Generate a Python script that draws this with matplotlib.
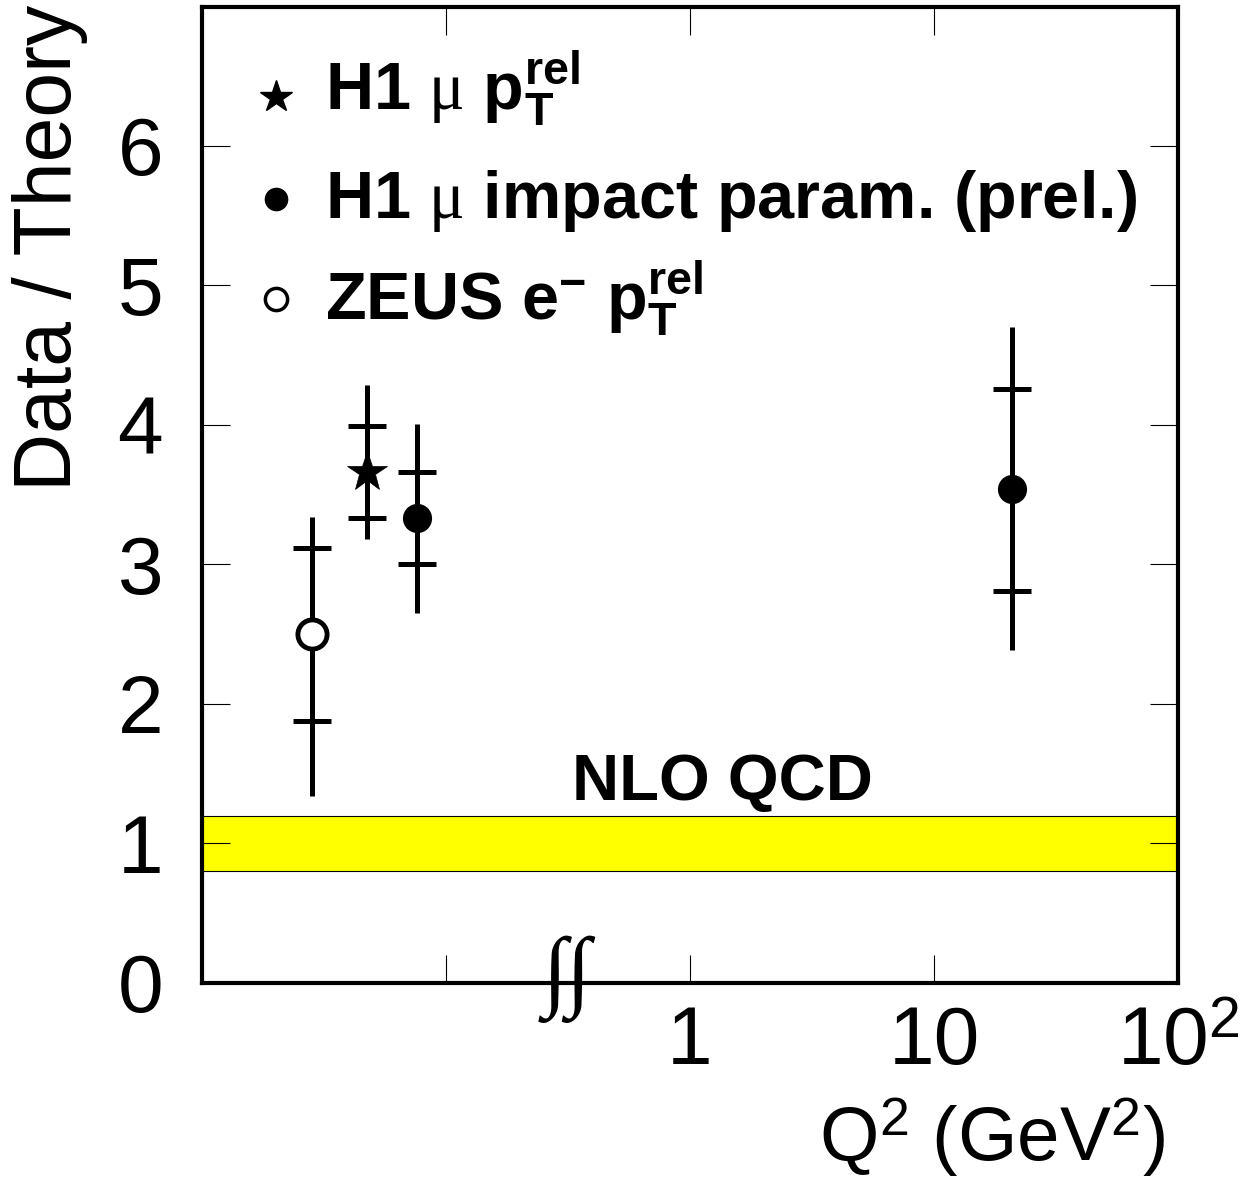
import matplotlib
matplotlib.use("Agg")
import matplotlib.pyplot as plt
import numpy as np

plt.rcParams['font.family'] = ['Liberation Sans', 'DejaVu Sans']
plt.rcParams['mathtext.fontset'] = 'custom'
plt.rcParams['mathtext.rm'] = 'Liberation Sans'
plt.rcParams['mathtext.bf'] = 'Liberation Sans:bold'
plt.rcParams['mathtext.it'] = 'Liberation Serif'

# ZEUS e- pTrel (photoproduction, drawn left of the axis break)
zeus_q2 = [0.0282]
zeus_val = [2.50]
zeus_stat_hi = [3.12]
zeus_stat_lo = [1.88]
zeus_tot_hi = [3.34]
zeus_tot_lo = [1.34]

# H1 mu pTrel
h1pt_q2 = [0.0475]
h1pt_val = [3.66]
h1pt_stat_hi = [3.99]
h1pt_stat_lo = [3.33]
h1pt_tot_hi = [4.29]
h1pt_tot_lo = [3.18]

# H1 mu impact parameter (prel.)
h1ip_q2 = [0.076, 20.9]
h1ip_val = [3.33, 3.54]
h1ip_stat_hi = [3.66, 4.26]
h1ip_stat_lo = [3.00, 2.81]
h1ip_tot_hi = [4.01, 4.70]
h1ip_tot_lo = [2.65, 2.39]

nlo_lo, nlo_hi = 0.8, 1.2

xticks = [0.1, 1, 10, 100]
xticklabels = ['', '1', '10', r'10$^{\mathrm{2}}$']
yticks = [0, 1, 2, 3, 4, 5, 6]

fig = plt.figure(figsize=(12.45, 11.82), dpi=100)
ax = fig.add_axes([0.1622, 0.1684, 0.7840, 0.8261])
ax.set_xscale('log')
ax.set_xlim(0.01, 100)
ax.set_ylim(0, 7)

ax.axhspan(nlo_lo, nlo_hi, facecolor='yellow', edgecolor='black', lw=0.8, zorder=1)
ax.text(0.533, 0.187, 'NLO QCD', transform=ax.transAxes, ha='center',
        va='baseline', fontsize=47, fontweight='bold')


def draw_points(q2, val, s_hi, s_lo, t_hi, t_lo, marker, ms, mfc, mew=0):
    q2 = np.array(q2)
    val = np.array(val)
    ax.errorbar(q2, val, yerr=[val - np.array(t_lo), np.array(t_hi) - val],
                fmt='none', ecolor='black', elinewidth=3.6, capsize=0, zorder=3)
    ax.plot(q2, s_hi, ls='none', marker='_', ms=28, mew=3.6, color='black', zorder=3)
    ax.plot(q2, s_lo, ls='none', marker='_', ms=28, mew=3.6, color='black', zorder=3)
    ax.plot(q2, val, ls='none', marker=marker, ms=ms, mfc=mfc, mec='black',
            mew=mew, zorder=4)


draw_points(zeus_q2, zeus_val, zeus_stat_hi, zeus_stat_lo, zeus_tot_hi,
            zeus_tot_lo, 'o', 21, 'white', mew=3.5)
draw_points(h1pt_q2, h1pt_val, h1pt_stat_hi, h1pt_stat_lo, h1pt_tot_hi,
            h1pt_tot_lo, '*', 30, 'black', mew=0.5)
draw_points(h1ip_q2, h1ip_val, h1ip_stat_hi, h1ip_stat_lo, h1ip_tot_hi,
            h1ip_tot_lo, 'o', 21, 'black')

# legend drawn by hand
leg_x_marker = 0.0758
leg_x_text = 0.126
ax.plot([leg_x_marker], [0.907], transform=ax.transAxes, marker='*', ms=24,
        color='black', ls='none', clip_on=False)
ax.plot([leg_x_marker], [0.803], transform=ax.transAxes, marker='o', ms=16,
        color='black', ls='none', clip_on=False)
ax.plot([leg_x_marker], [0.700], transform=ax.transAxes, marker='o', ms=16,
        mfc='white', mec='black', mew=2.5, ls='none', clip_on=False)
ax.text(leg_x_text, 0.894, r'H1 $\mu$ $\mathbf{p}_\mathbf{T}^\mathbf{rel}$',
        transform=ax.transAxes, fontsize=48, fontweight='bold', va='baseline')
ax.text(leg_x_text, 0.783, r'H1 $\mu$ impact param. (prel.)',
        transform=ax.transAxes, fontsize=48, fontweight='bold', va='baseline')
ax.text(leg_x_text, 0.679, r'ZEUS e$^\mathbf{-}$ $\mathbf{p}_\mathbf{T}^\mathbf{rel}$',
        transform=ax.transAxes, fontsize=48, fontweight='bold', va='baseline')

# axis break symbol
ax.text(0.374, 0.004, '\u222b\u222b', transform=ax.transAxes, ha='center',
        va='center', fontsize=64, family=['Liberation Serif', 'DejaVu Serif'],
        clip_on=False, zorder=5)

ax.set_xticks(xticks)
ax.set_xticklabels(xticklabels)
ax.set_yticks(yticks)
ax.minorticks_off()
ax.tick_params(direction='in', length=20, width=0.8, top=True, right=True,
               labelsize=59)
ax.tick_params(axis='x', pad=16)
ax.tick_params(axis='y', pad=28)
for sp in ax.spines.values():
    sp.set_linewidth(3)

fig.text(0.936, 0.018, r'Q$^{\mathrm{2}}$ (GeV$^{\mathrm{2}}$)', ha='right',
         va='baseline', fontsize=55)
fig.text(0.040, 0.790, 'Data / Theory', rotation=90, ha='center', va='center',
         fontsize=58)

fig.savefig('out.png', dpi=100)
